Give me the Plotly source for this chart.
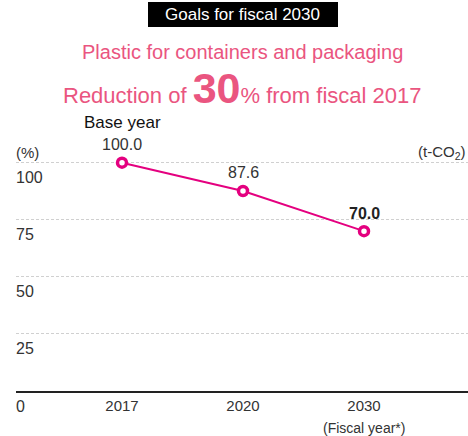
import plotly.graph_objects as go

# ---- data ----
years = ["2017", "2020", "2030"]
values = [100.0, 87.6, 70.0]
y_ticks = [0, 25, 50, 75, 100]
y_tick_labels = ["0", "25", "50", "75", "100"]
x_note = "(Fiscal year*)"
base_label = "Base year"
unit_left = "(%)"
unit_right = "(t-CO<sub>2</sub>)"
header = "Goals for fiscal 2030"
subtitle = "Plastic for containers and packaging"
target_pct = "30"

W, H = 468, 436
ML, MR, MT, MB = 16, 0, 117, 45
PW, PH = W - ML - MR, H - MT - MB

def px(x):
    return (x - ML) / PW

def py(y):
    return (H - MB - y) / PH

FONT = "Liberation Sans, Arial, sans-serif"
PINK = "#EA5580"
MAG = "#E4007F"
TXT = "#333333"

xs = list(range(len(years)))

fig = go.Figure()
fig.add_trace(go.Scatter(
    x=xs, y=values, mode="lines+markers",
    line=dict(color=MAG, width=2),
    marker=dict(symbol="circle", size=9, color="white",
                line=dict(color=MAG, width=3.5)),
    cliponaxis=False, hoverinfo="skip", showlegend=False,
))

ann = []
# data labels
for i, v in enumerate(values):
    bold = i == len(values) - 1
    ann.append(dict(x=xs[i], y=v, xref="x", yref="y",
                    text=(f"<b>{v:.1f}</b>" if bold else f"{v:.1f}"),
                    showarrow=False, yshift=18,
                    font=dict(size=16, color="#222222" if bold else TXT, family=FONT)))
ann.append(dict(x=xs[0], y=values[0], xref="x", yref="y", text=base_label,
                showarrow=False, yshift=40,
                font=dict(size=17, color="#111111", family=FONT)))
# y tick labels, drawn below each gridline
for t, lab in zip(y_ticks, y_tick_labels):
    ann.append(dict(x=px(14), y=t, xref="paper", yref="y", text=lab,
                    xanchor="left", yanchor="middle", showarrow=False, yshift=-15,
                    font=dict(size=16, color=TXT, family=FONT)))
# units
ann.append(dict(x=px(14), y=py(152), xref="paper", yref="paper", text=unit_left,
                xanchor="left", yanchor="middle", showarrow=False,
                font=dict(size=15, color=TXT, family=FONT)))
ann.append(dict(x=px(468), y=py(152), xref="paper", yref="paper", text=unit_right,
                xanchor="right", yanchor="middle", showarrow=False,
                font=dict(size=15, color=TXT, family=FONT)))
# fiscal year note
ann.append(dict(x=xs[-1], y=py(428), xref="x", yref="paper", text=x_note,
                xanchor="center", yanchor="middle", showarrow=False,
                font=dict(size=14, color=TXT, family=FONT)))
# header texts
ann.append(dict(x=px(243), y=py(15), xref="paper", yref="paper", text=header,
                xanchor="center", yanchor="middle", showarrow=False,
                font=dict(size=17, color="white", family=FONT)))
ann.append(dict(x=px(242), y=py(52), xref="paper", yref="paper", text=subtitle,
                xanchor="center", yanchor="middle", showarrow=False,
                font=dict(size=20, color=PINK, family=FONT)))
ann.append(dict(x=px(242), y=py(88), xref="paper", yref="paper",
                text=("Reduction of <span style='font-size:43px'><b>" + target_pct +
                      "</b></span>% from fiscal 2017"),
                xanchor="center", yanchor="middle", showarrow=False,
                font=dict(size=22, color=PINK, family=FONT)))

fig.update_layout(
    width=W, height=H,
    margin=dict(l=ML, r=MR, t=MT, b=MB, pad=0),
    paper_bgcolor="white", plot_bgcolor="white",
    font=dict(family=FONT, color=TXT),
    annotations=ann,
    shapes=[dict(type="rect", xref="paper", yref="paper",
                 x0=px(148), x1=px(338), y0=py(27), y1=py(2),
                 fillcolor="black", line=dict(width=0), layer="below")],
    xaxis=dict(range=[-106 / 121, (PW - 106) / 121], tickvals=xs, ticktext=years,
               showgrid=False, zeroline=False, showline=True,
               linecolor="#222222", linewidth=2, ticks="",
               tickfont=dict(size=15, color=TXT, family=FONT), fixedrange=True),
    yaxis=dict(range=[0, 120], tickvals=y_ticks, showticklabels=False,
               showgrid=True, gridcolor="#d0d0d0", gridwidth=1, griddash="3px,2px",
               zeroline=False, showline=False, ticks="", fixedrange=True),
)

fig.write_html("out.html", config={"displayModeBar": False},
               post_script="document.body.style.margin='0';document.body.style.overflow='hidden';")
